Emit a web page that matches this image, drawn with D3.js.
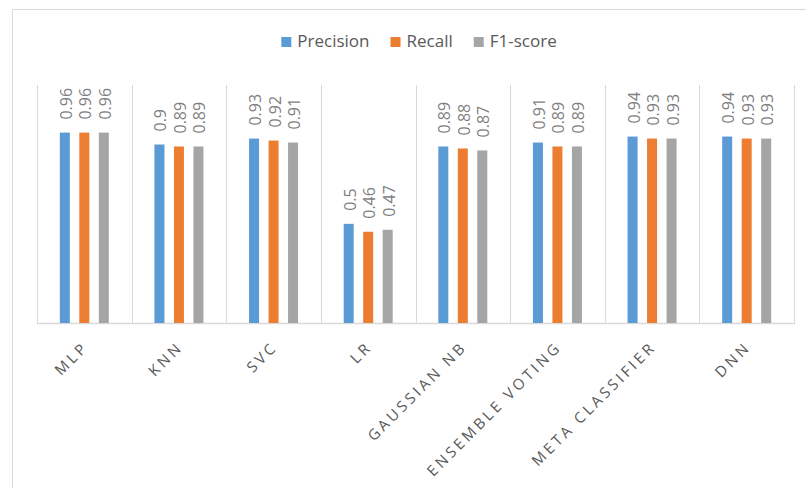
<!DOCTYPE html>
<html>
<head>
<meta charset="utf-8">
<script src="https://cdn.jsdelivr.net/npm/d3@7"></script>
<style>
  body { margin: 0; background: #fff; }
  svg { display: block; font-family: "Open Sans", "Noto Sans", sans-serif; }
</style>
</head>
<body>
<div id="chart"></div>
<script>
// Chart data
const models = ["MLP", "KNN", "SVC", "LR", "GAUSSIAN NB", "ENSEMBLE VOTING", "META CLASSIFIER", "DNN"];
const seriesNames = ["Precision", "Recall", "F1-score"];
const precision = [0.96, 0.9, 0.93, 0.5, 0.89, 0.91, 0.94, 0.94];
const recall = [0.96, 0.89, 0.92, 0.46, 0.88, 0.89, 0.93, 0.93];
const f1score = [0.96, 0.89, 0.91, 0.47, 0.87, 0.89, 0.93, 0.93];
const seriesColors = ["#5b9bd5", "#ed7d31", "#a5a5a5"];

const width = 806, height = 488;
const plot = { left: 37, right: 794, top: 85, bottom: 323 };

const svg = d3.select("#chart").append("svg")
  .attr("width", width)
  .attr("height", height);

// chart area border (only top / left visible in the crop)
svg.append("path")
  .attr("d", `M12.5,${height} V9.5 H${width}`)
  .attr("fill", "none")
  .attr("stroke", "#d9d9d9");

const values = [precision, recall, f1score];
const rows = models.map((m, i) => ({ model: m, vals: seriesNames.map((s, j) => ({ key: s, idx: j, value: values[j][i] })) }));

// Scales
const x0 = d3.scaleBand().domain(models).range([plot.left, plot.right]).padding(0);
const groupWidth = 49;
const x1 = d3.scaleBand().domain(seriesNames).range([0, groupWidth]).paddingInner(0.487).paddingOuter(0);
const y = d3.scaleLinear().domain([0, 1.2]).range([plot.bottom, plot.top]);

// Category separators
svg.append("g")
  .selectAll("line")
  .data(models.concat(["end"]))
  .enter().append("line")
  .attr("x1", (d, i) => Math.round(plot.left + i * x0.step()) + 0.5)
  .attr("x2", (d, i) => Math.round(plot.left + i * x0.step()) + 0.5)
  .attr("y1", plot.top)
  .attr("y2", plot.bottom)
  .attr("stroke", "#d9d9d9")
  .attr("stroke-width", 1);

// Baseline
svg.append("line")
  .attr("x1", plot.left).attr("x2", plot.right + 1)
  .attr("y1", plot.bottom + 0.5).attr("y2", plot.bottom + 0.5)
  .attr("stroke", "#d9d9d9")
  .attr("stroke-width", 1.5);

// Bars
const groups = svg.append("g")
  .selectAll("g")
  .data(rows)
  .enter().append("g")
  .attr("transform", d => `translate(${x0(d.model) + (x0.bandwidth() - groupWidth) / 2},0)`);

groups.selectAll("rect")
  .data(d => d.vals)
  .enter().append("rect")
  .attr("x", d => x1(d.key))
  .attr("y", d => y(d.value))
  .attr("width", x1.bandwidth())
  .attr("height", d => y(0) - y(d.value))
  .attr("fill", d => seriesColors[d.idx]);

// Value labels (rotated)
groups.selectAll("text")
  .data(d => d.vals)
  .enter().append("text")
  .attr("transform", d => `translate(${x1(d.key) + x1.bandwidth() / 2 + 1},${y(d.value) - 13}) rotate(-90)`)
  .attr("dominant-baseline", "central")
  .attr("text-anchor", "start")
  .attr("font-size", 16)
  .attr("fill", "#7f7f7f")
  .text(d => d.value);

// Category labels, rotated -45
svg.append("g")
  .selectAll("text")
  .data(models)
  .enter().append("text")
  .attr("transform", d => `translate(${x0(d) + x0.bandwidth() / 2 + 5},${plot.bottom + 25}) rotate(-45)`)
  .attr("text-anchor", "end")
  .attr("font-size", 15)
  .attr("letter-spacing", "3.2px")
  .attr("fill", "#595959")
  .text(d => d);

// Legend
const legend = svg.append("g");
const items = legend.selectAll("g")
  .data(seriesNames)
  .enter().append("g");
items.append("rect")
  .attr("width", 10).attr("height", 10)
  .attr("y", 37)
  .attr("fill", (d, i) => seriesColors[i]);
items.append("text")
  .attr("x", 16)
  .attr("y", 47)
  .attr("font-size", 17)
  .attr("fill", "#595959")
  .text(d => d);

let cursor = 0;
items.each(function () {
  const w = d3.select(this).select("text").node().getComputedTextLength();
  d3.select(this).attr("transform", `translate(${cursor},0)`);
  cursor += 16 + w + 21;
});
const legendWidth = cursor - 21;
legend.attr("transform", `translate(${419 - legendWidth / 2},0)`);
</script>
</body>
</html>
